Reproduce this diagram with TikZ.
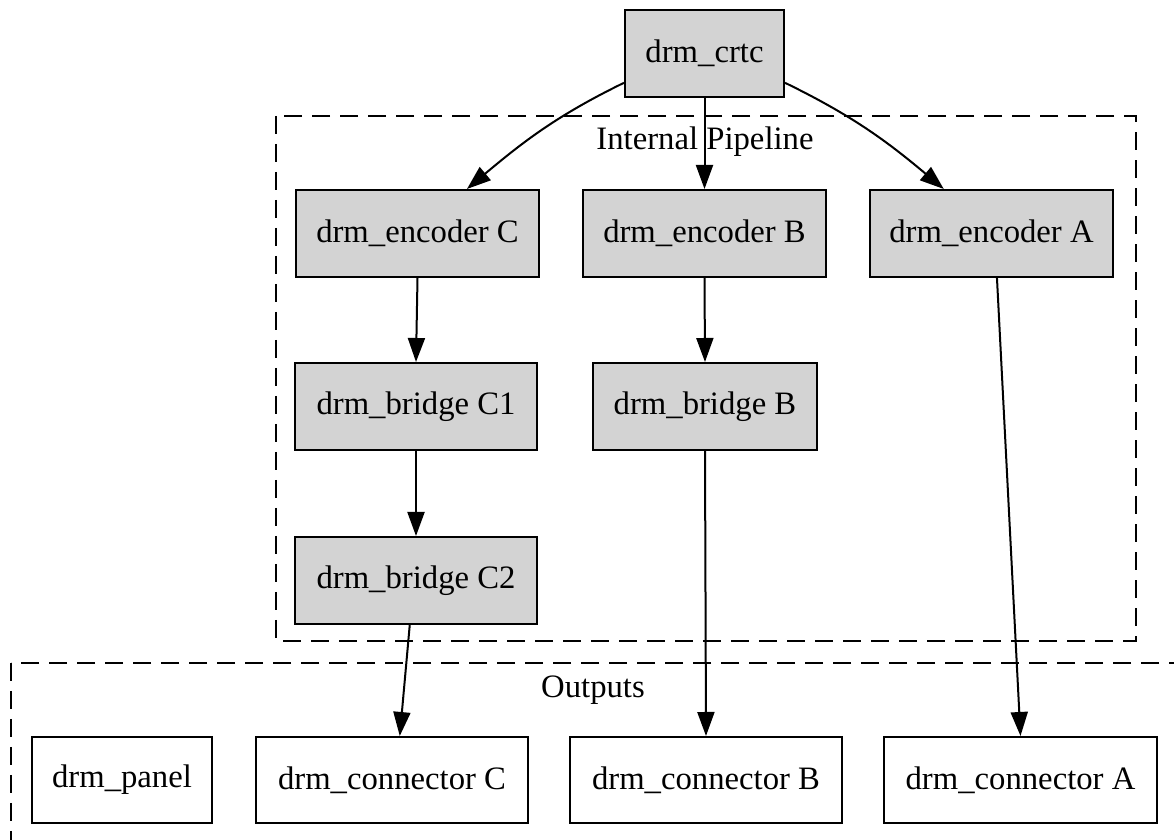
\documentclass[tikz,border=0pt]{standalone}
\usepackage{fontspec}
\setmainfont{Liberation Serif}
\usetikzlibrary{arrows.meta}

\begin{document}
\begin{tikzpicture}[x=0.5pt, y=0.5pt,
    every node/.style={font=\fontsize{16.35}{19}\selectfont},
    unit/.style={draw, line width=1pt, inner sep=0pt, minimum height=43.5pt},
    inner/.style={unit, fill={rgb,255:red,211;green,211;blue,211}},
    outer/.style={unit, fill=white},
    edge/.style={line width=1pt, -{Triangle[length=12pt, width=8.5pt]}},
    cluster/.style={line width=1pt, dash pattern=on 9pt off 5pt}]
    \clip (0,0) rectangle (1174,840);

    % --- clusters --------------------------------------------------------
    \draw[cluster] (276,724) rectangle (1136,199);
    \node (pipelbl) at (705,698) {Internal Pipeline};
    \draw[cluster] (11,177) rectangle (1200,-20);
    \node (outlbl) at (593,150) {Outputs};

    % --- display pipeline ------------------------------------------------
    \node[inner, minimum width=79.5pt] (crtc) at (704.5,786.5) {drm\_crtc};
    \node[inner, minimum width=121.5pt] (encC) at (417.5,606.5) {drm\_encoder C};
    \node[inner, minimum width=121.5pt] (encB) at (704.5,606.5) {drm\_encoder B};
    \node[inner, minimum width=121.5pt] (encA) at (991.5,606.5) {drm\_encoder A};
    \node[inner, minimum width=121pt] (brC1) at (416,433.5) {drm\_bridge C1};
    \node[inner, minimum width=112pt] (brB) at (705,433.5) {drm\_bridge B};
    \node[inner, minimum width=121pt] (brC2) at (416,259.5) {drm\_bridge C2};

    % --- outputs ---------------------------------------------------------
    \node[outer, minimum width=90pt, minimum height=43pt] (panel) at (122,60) {drm\_panel};
    \node[outer, minimum width=136pt, minimum height=43pt] (conC) at (392,60) {drm\_connector C};
    \node[outer, minimum width=136pt, minimum height=43pt] (conB) at (706,60) {drm\_connector B};
    \node[outer, minimum width=136.5pt, minimum height=43pt] (conA) at (1020.5,60) {drm\_connector A};

    % --- links -----------------------------------------------------------
    \draw[edge] (crtc.200) to[out=206, in=40] (encC.42);
    \draw[edge] (crtc.south) -- (encB.north);
    \draw[edge] (crtc.340) to[out=-26, in=140] (encA.137);
    \draw[edge] (encC.south) -- (brC1.north);
    \draw[edge] (encB.south) -- (brB.north);
    \draw[edge] (brC1.south) -- (brC2.north);
    \draw[edge] (brC2.262) -- (conC.80);
    \draw[edge] (brB.south) -- (conB.north);
    \draw[edge] (encA.277) -- (conA.north);
  \end{tikzpicture}
\end{document}
